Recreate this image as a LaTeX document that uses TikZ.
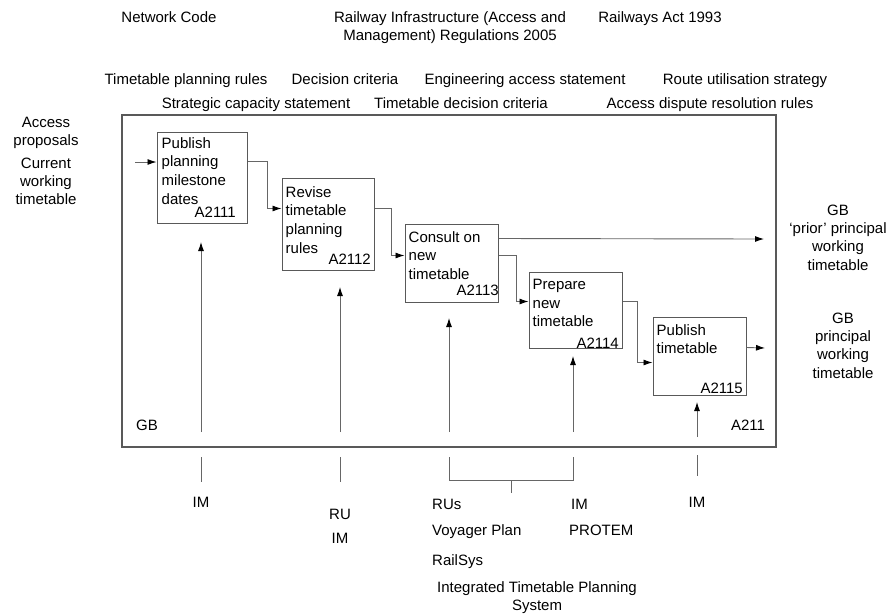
\documentclass[tikz,border=0pt]{standalone}
\usepackage{fontspec}
\setmainfont{Liberation Sans}
\usetikzlibrary{arrows.meta,calc}
\begin{document}
\begin{tikzpicture}[x=1pt,y=-1pt,
  txt/.style={font=\fontsize{15}{18.3}\selectfont, inner sep=0pt, align=center},
  lbl/.style={txt, anchor=base},
  boxtxt/.style={font=\fontsize{15}{18.7}\selectfont, inner sep=0pt, align=left, anchor=north west},
  code/.style={font=\fontsize{15}{18}\selectfont, inner sep=0pt, anchor=base east},
  frame/.style={draw=black!65, line width=1.1pt, inner sep=0pt},
  procbox/.style={draw=black!65, line width=1pt, inner sep=0pt},
  wire/.style={draw=black!60, line width=0.9pt},
  flow/.style={wire, -{Latex[length=9pt,width=6pt,black]}}]
\useasboundingbox (0,0) rectangle (888,614);

% context frame
\node[frame, minimum width=654pt, minimum height=332pt] (fr) at (449,281) {};
\node[lbl] (gb) at (147,430.4) {GB};
\node[lbl] (a211) at (748,430.4) {A211};

% process boxes
\node[procbox, minimum width=90pt, minimum height=91pt] (b1) at (202,177.5) {};
\node[procbox, minimum width=92pt, minimum height=92pt] (b2) at (328,224) {};
\node[procbox, minimum width=93pt, minimum height=78pt] (b3) at (451.5,263) {};
\node[procbox, minimum width=93pt, minimum height=76pt] (b4) at (575.5,310) {};
\node[procbox, minimum width=93pt, minimum height=78pt] (b5) at (699.5,356) {};

\node[boxtxt] (t1) at ($(b1.north west)+(5,5.5)$) {Publish\\planning\\milestone\\dates};
\node[boxtxt] (t2) at ($(b2.north west)+(4,8.5)$) {Revise\\timetable\\planning\\rules};
\node[boxtxt] (t3) at ($(b3.north west)+(4,7.5)$) {Consult on\\new\\timetable};
\node[boxtxt] (t4) at ($(b4.north west)+(4,7.5)$) {Prepare\\new\\timetable};
\node[boxtxt] (t5) at ($(b5.north west)+(4,7.5)$) {Publish\\timetable};

\node[code] (k1) at (236,217.4) {A2111};
\node[code] (k2) at (371,264.4) {A2112};
\node[code] (k3) at (499,295.4) {A2113};
\node[code] (k4) at (619,348.4) {A2114};
\node[code] (k5) at (743,393.4) {A2115};

% inputs and outputs
\coordinate (in1) at (135,162);
\coordinate (pout) at (764,239);
\coordinate (out5) at (765,348);
\draw[flow] (in1) -- (in1 -| b1.west);
\draw[flow] ($(b1.north east)+(0,30)$) -- ++(20,0) |- ($(b2.north west)+(0,31)$);
\draw[flow] ($(b2.north east)+(0,31)$) -- ++(17,0) |- ($(b3.north west)+(0,32)$);
\draw[flow] ($(b3.north east)+(0,15)$) -- (pout);
\draw[flow] ($(b3.north east)+(0,32)$) -- ++(18,0) |- ($(b4.north west)+(0,30)$);
\draw[flow] ($(b4.north east)+(0,30)$) -- ++(15,0) |- ($(b5.north west)+(0,46)$);
\draw[flow] ($(b5.north east)+(0,31)$) -- (out5);

% mechanisms
\coordinate (m1) at (201,432);  \coordinate (e1) at (201,242);
\coordinate (m2) at (340,432);  \coordinate (e2) at (340,287);
\coordinate (m3) at (449,432);  \coordinate (e3) at (449,318);
\coordinate (m4) at (573,432);  \coordinate (e4) at (573,356);
\coordinate (m5) at (697,437);  \coordinate (e5) at (697,402);
\draw[flow] (m1) -- (e1);
\draw[flow] (m2) -- (e2);
\draw[flow] (m3) -- (e3);
\draw[flow] (m4) -- (e4);
\draw[flow] (m5) -- (e5);

% mechanism stubs below the frame
\draw[wire] (201,457) -- (201,482);
\draw[wire] (340,457) -- (340,482);
\draw[wire] (449,457) -- (449,480) -- (573,480) -- (573,457);
\draw[wire] (511,480) -- (511,493);
\draw[wire] (697,455) -- (697,476);

% controls
\node[lbl] (nc) at (169,22.4) {Network Code};
\node[txt, anchor=north] (rir) at (450,11.5) {Railway Infrastructure (Access and\\Management) Regulations 2005};
\node[lbl] (ra) at (660,22.4) {Railways Act 1993};
\node[lbl] (tpr) at (186,84.4) {Timetable planning rules};
\node[lbl] (dc) at (345,84.4) {Decision criteria};
\node[lbl] (eas) at (525,84.4) {Engineering access statement};
\node[lbl] (rus) at (745,84.4) {Route utilisation strategy};
\node[lbl] (scs) at (256,108.4) {Strategic capacity statement};
\node[lbl] (tdc) at (461,108.4) {Timetable decision criteria};
\node[lbl] (adr) at (710,108.4) {Access dispute resolution rules};

% inputs
\node[txt, anchor=north] (ap) at (46,116.5) {Access\\proposals};
\node[txt, anchor=north] (cwt) at (46,157.5) {Current\\working\\timetable};

% outputs
\node[txt, anchor=north] (pp) at (838,204.5) {GB\\`prior' principal\\working\\timetable};
\node[txt, anchor=north] (pw) at (843,312.5) {GB\\principal\\working\\timetable};

% mechanism labels
\node[lbl] (im1) at (201,507.4) {IM};
\node[lbl] (ru2) at (340,519.4) {RU};
\node[lbl] (im2) at (340,543.4) {IM};
\node[lbl, anchor=base west] (rus3) at (432,509.4) {RUs};
\node[lbl, anchor=base west] (vp) at (432,535.4) {Voyager Plan};
\node[lbl, anchor=base west] (rs) at (432,565.4) {RailSys};
\node[lbl, anchor=base west] (im4) at (571,509.4) {IM};
\node[lbl, anchor=base west] (pro) at (569,535.4) {PROTEM};
\node[txt, anchor=north] (itps) at (537,581.5) {Integrated Timetable Planning\\System};
\node[lbl] (im5) at (697,507.4) {IM};
\end{tikzpicture}
\end{document}
